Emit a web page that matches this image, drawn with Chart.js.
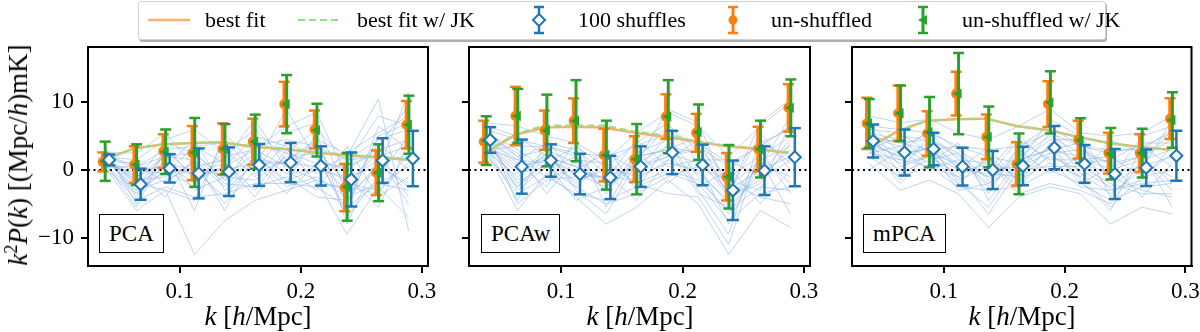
<!DOCTYPE html>
<html>
<head>
<meta charset="utf-8">
<script src="https://cdn.jsdelivr.net/npm/chart.js@4.4.1/dist/chart.umd.min.js"></script>
<style>
  body { margin: 0; background: #fff; }
  #wrap { position: relative; width: 1200px; height: 332px; overflow: hidden; font-family: "Liberation Serif", serif; color: #000; }
  canvas { position: absolute; top: 0; }
  .lbl { position: absolute; top: 214px; height: 37px; line-height: 38px; padding: 0 9px; border: 1px solid #000; background: #fff; font-size: 23px; }
  .xt { position: absolute; top: 301px; font-size: 27px; transform: translateX(-50%); white-space: nowrap; line-height: 30px; }
  .yt { position: absolute; left: 18px; top: 155px; font-size: 27px; white-space: nowrap; line-height: 30px; transform: translate(-50%, -50%) rotate(-90deg); }
  .legbox { position: absolute; left: 138px; top: 1px; width: 966px; height: 37px; border: 1px solid #d0d0d0; border-radius: 3px; background: #fff; box-shadow: 1px 2px 0 #b0b0b0; }
  .lt { position: absolute; top: 1px; line-height: 38px; font-size: 22px; white-space: nowrap; }
  svg { position: absolute; left: 0; top: 0; }
  sup { font-size: 0.68em; line-height: 0; }
</style>
</head>
<body>
<div id="wrap">
  <canvas id="c1" width="440" height="332" style="left:0px"></canvas>
  <canvas id="c2" width="382" height="332" style="left:440px"></canvas>
  <canvas id="c3" width="378" height="332" style="left:822px"></canvas>

  <div class="lbl" style="left:99px">PCA</div>
  <div class="lbl" style="left:481px">PCAw</div>
  <div class="lbl" style="left:863px">mPCA</div>

  <div class="xt" style="left:258px"><i>k</i> [<i>h</i>/Mpc]</div>
  <div class="xt" style="left:640px"><i>k</i> [<i>h</i>/Mpc]</div>
  <div class="xt" style="left:1022px"><i>k</i> [<i>h</i>/Mpc]</div>
  <div class="yt"><i>k</i><sup>2</sup><i>P</i>(<i>k</i>) [(Mpc/<i>h</i>)mK]</div>

  <div class="legbox"></div>
  <svg width="1200" height="40">
    <line x1="148" y1="20" x2="190" y2="20" stroke="#fdae6b" stroke-width="2.5"/>
    <line x1="298" y1="20" x2="340" y2="20" stroke="#8ee08a" stroke-width="2" stroke-dasharray="7,4"/>
    <line x1="539" y1="7" x2="539" y2="33" stroke="#1f77b4" stroke-width="2.5"/>
    <line x1="534" y1="7" x2="544" y2="7" stroke="#1f77b4" stroke-width="2.5"/>
    <line x1="534" y1="33" x2="544" y2="33" stroke="#1f77b4" stroke-width="2.5"/>
    <polygon points="539,14 545,20 539,26 533,20" fill="#fff" stroke="#1f77b4" stroke-width="2"/>
    <line x1="733" y1="7" x2="733" y2="33" stroke="#ff7f0e" stroke-width="3"/>
    <line x1="728" y1="7" x2="738" y2="7" stroke="#ff7f0e" stroke-width="2.5"/>
    <line x1="728" y1="33" x2="738" y2="33" stroke="#ff7f0e" stroke-width="2.5"/>
    <circle cx="733" cy="20" r="4.5" fill="#ff7f0e"/>
    <line x1="923" y1="7" x2="923" y2="33" stroke="#2ca02c" stroke-width="3"/>
    <line x1="918" y1="7" x2="928" y2="7" stroke="#2ca02c" stroke-width="2.5"/>
    <line x1="918" y1="33" x2="928" y2="33" stroke="#2ca02c" stroke-width="2.5"/>
    <polygon points="918,20 927,15 927,25" fill="#2ca02c"/>
  </svg>
  <div class="lt" style="left:205px">best fit</div>
  <div class="lt" style="left:357px">best fit w/ JK</div>
  <div class="lt" style="left:578px">100 shuffles</div>
  <div class="lt" style="left:771px">un-shuffled</div>
  <div class="lt" style="left:962px">un-shuffled w/ JK</div>
</div>

<script>
// k bins (h/Mpc) and axis ticks
const kBins = [0.038, 0.064, 0.088, 0.112, 0.137, 0.162, 0.188, 0.213, 0.238, 0.264, 0.289];
const xTicks = [0.1, 0.2, 0.3];
const yTicks = [-10, 0, 10];

// PCA
const pcaOrange    = [1.2, 0.8, 2.8, 2.5, 3.1, 4.2, 9.75, 6.0, -2.6, -0.4, 6.7];
const pcaOrangeErr = [1.4, 2.7, 2.5, 4.0, 3.8, 3.4, 3.3, 2.8, 3.5, 3.3, 3.5];
const pcaGreen     = [1.3, 0.8, 2.7, 2.6, 3.1, 4.2, 9.75, 5.9, -2.5, -0.4, 6.7];
const pcaGreenErr  = [2.9, 3.0, 3.3, 5.1, 3.7, 4.0, 4.3, 3.9, 5.0, 4.2, 4.3];
const pcaBlue      = [1.5, -2.1, 0.25, -0.5, -0.25, 0.75, 1.1, 0.6, -1.4, 1.4, 1.7];
const pcaBlueErr   = [0.8, 2.3, 2.1, 3.7, 3.6, 3.1, 2.9, 2.9, 4.0, 3.3, 4.1];
const pcaFit       = [1.5, 3.2, 3.8, 4.0, 4.1, 3.4, 3.1, 2.6, 2.2, 1.9, 1.5];
const pcaFitJK     = [1.5, 3.2, 3.8, 4.0, 4.1, 3.5, 3.2, 2.7, 2.3, 2.0, 1.6];
const pcaShuffles = [
  [1.5, -2.0, 0.5, -0.5, 0.0, 1.0, 1.0, 0.5, -1.5, 1.5, 2.0],
  [2.3, 0.5, 3.0, 3.5, 4.0, 3.5, 4.5, 3.5, 1.5, 4.5, 6.0],
  [0.8, -4.5, -2.5, -4.0, -3.5, -2.0, -2.0, -2.5, -5.5, -2.0, -3.0],
  [1.2, -1.0, 2.0, 2.5, -1.5, 4.0, 2.5, 1.0, -3.0, 3.0, 4.5],
  [2.0, 1.5, 4.5, 6.0, 2.5, 6.0, 1.5, 4.5, 2.5, 5.5, 8.0],
  [0.5, -6.0, -3.0, -12.5, -7.5, -4.5, -3.0, -1.5, -9.5, -2.5, -7.0],
  [1.6, -1.5, -1.0, 1.0, -5.0, 0.0, 5.5, 7.0, -3.5, 0.0, 11.5],
  [2.6, 2.5, 5.5, 0.5, 1.5, 7.5, 0.0, -3.0, 3.5, -4.0, -1.0],
  [0.2, -3.5, 0.0, -2.5, 3.0, -1.0, 4.0, 2.0, -6.0, 6.5, 3.0],
  [1.8, -3.0, 1.5, -3.0, -1.0, 2.5, -2.0, 5.5, -8.0, 2.0, -5.0],
  [1.0, 0.0, -0.5, 3.5, 1.0, -3.0, 3.0, -0.5, 1.0, 8.0, 6.5],
  [2.2, -4.0, 1.0, 0.0, -4.0, 1.5, 1.0, 3.0, -2.0, -3.0, 1.0],
  [1.4, -2.5, 2.5, -6.0, 5.5, 0.5, 9.0, 1.5, 0.0, 3.5, 9.5],
  [0.9, -0.5, -4.0, 2.0, -2.0, -2.5, -1.0, -4.0, -4.5, 1.0, -2.5],
  [2.9, -5.0, 3.5, -1.5, 0.5, 3.0, 6.5, 8.5, -1.0, -5.5, 4.0],
  [1.3, 1.0, -2.0, 1.5, -2.5, 2.0, -1.5, 0.0, 2.0, 10.5, -9.0],
  [1.7, -1.0, 1.0, -2.0, 2.0, 3.0, 0.5, -1.5, -3.0, 4.0, 0.0],
  [0.6, -3.0, -1.5, 0.5, -1.0, -1.5, 2.0, 2.5, -7.0, -1.0, 5.0],
  [2.4, 0.0, 0.5, 4.5, -3.0, 1.0, -3.5, 1.0, 0.5, 2.5, -4.0],
  [1.1, -5.5, 3.0, -1.0, 0.5, 5.0, 3.5, -2.0, -2.5, -3.5, 2.5],
  [1.9, -2.0, -3.0, -4.5, 4.5, -0.5, 1.5, 4.0, -5.0, 5.0, 7.0],
  [0.4, 0.5, 2.0, 1.5, -6.0, 2.5, -0.5, 0.0, -1.0, 0.5, -2.0],
  [2.1, -3.5, 0.0, -0.5, 1.0, -4.0, 2.5, 6.0, 1.5, 2.0, 3.5],
  [1.5, -1.5, 4.0, 2.5, -1.5, 1.5, -2.5, -1.0, -4.0, -2.0, 0.5]
];

// PCAw
const pcawOrange    = [4.2, 8.0, 5.9, 7.3, 2.2, 1.6, 7.9, 5.5, -1.0, 3.1, 9.2];
const pcawOrangeErr = [3.1, 4.3, 2.9, 3.3, 3.9, 3.4, 3.3, 2.8, 3.5, 3.3, 3.5];
const pcawGreen     = [4.35, 8.0, 5.85, 7.3, 2.2, 1.6, 7.9, 5.6, -1.0, 3.1, 9.2];
const pcawGreenErr  = [3.6, 4.0, 5.3, 6.0, 5.1, 5.2, 5.4, 4.1, 4.7, 4.2, 4.2];
const pcawBlue      = [4.45, 0.5, 1.4, -0.6, -1.1, 0.5, 2.6, 0.75, -3.0, -0.1, 1.9];
const pcawBlueErr   = [1.9, 4.0, 2.4, 3.0, 3.2, 3.0, 3.2, 3.0, 4.4, 3.6, 4.3];
const pcawFit       = [2.4, 5.2, 6.3, 6.4, 6.3, 5.5, 4.9, 4.2, 3.5, 3.1, 2.5];
const pcawFitJK     = [2.5, 5.3, 6.6, 6.6, 6.6, 5.7, 5.1, 4.3, 3.6, 3.2, 2.6];
const pcawShuffles = [
  [4.5, 0.5, 1.5, -0.5, -1.0, 0.5, 2.5, 1.0, -3.0, 0.0, 2.0],
  [6.0, 4.5, 3.5, 2.5, 2.0, 3.5, 5.5, 4.0, 1.0, 3.5, 6.5],
  [2.5, -3.5, -1.0, -3.5, -4.5, -2.5, -0.5, -2.0, -7.5, -3.5, -2.5],
  [5.0, 2.0, 3.0, 1.0, -3.0, 1.5, 6.5, 3.0, -1.0, 2.0, 5.0],
  [3.0, -6.0, -0.5, -4.0, -8.0, -5.5, -1.5, -5.0, -12.5, -6.0, -8.5],
  [7.0, 6.5, 5.0, 4.0, 1.5, 5.5, 8.5, 6.5, 2.0, 6.5, 10.0],
  [4.0, -1.5, 2.5, -2.0, 0.5, -1.0, 1.0, 0.0, -5.0, 1.0, -1.0],
  [5.5, 3.0, 0.0, 2.0, -2.0, 3.0, -2.0, 2.0, -4.0, -2.0, 4.0],
  [3.5, -4.5, 4.5, -1.0, 3.5, -3.0, 4.0, -3.0, -9.5, 4.5, 1.0],
  [4.8, 1.0, -2.5, 4.5, -5.5, 2.0, 3.0, 5.0, -2.0, -4.0, -5.0],
  [2.0, -2.5, 1.0, -1.5, 0.0, 0.0, 5.0, -1.0, -6.5, 0.5, 8.0],
  [6.5, 5.0, 2.0, 0.5, -1.5, 4.5, 0.5, 1.5, 1.5, -1.0, 3.0],
  [3.8, -0.5, 3.0, -3.0, -6.5, 1.0, 9.0, 7.0, -3.5, 7.0, 10.5],
  [5.2, 2.5, -3.5, 1.5, 1.0, -2.0, -3.5, -4.0, -11.0, 3.0, -3.5],
  [4.2, -2.0, 1.0, -4.5, -2.5, 0.5, 2.0, 3.5, 0.5, -5.0, 0.0],
  [3.2, 1.5, 4.0, 3.0, -0.5, -4.5, 1.5, -0.5, -4.5, 1.5, -6.5],
  [4.0, 0.0, 2.0, 0.5, -2.0, 1.0, 3.5, 2.5, -2.5, 1.5, 3.5],
  [5.5, -3.0, 0.5, -2.5, 1.5, -2.0, 0.0, -1.5, -6.0, -2.5, -3.0],
  [3.0, 3.5, 3.5, 2.0, -3.5, 2.5, 4.5, -2.5, 0.0, 4.0, 6.0],
  [6.2, -5.0, -1.5, -1.0, -1.0, -1.5, 1.5, 4.5, -4.0, -1.5, 1.5],
  [4.6, 1.5, 1.0, 3.5, 0.5, 4.0, 7.0, 1.0, -8.0, 2.0, -2.0],
  [2.8, -1.0, 2.5, -2.5, -5.0, -3.5, -1.0, 0.5, -1.5, -3.0, 7.0],
  [5.8, 2.0, -1.0, 0.0, 2.5, 0.0, 2.0, 3.0, -3.5, 5.5, 0.0],
  [3.6, -2.5, 2.0, -0.5, -2.5, 2.0, 3.0, -3.5, -5.5, -0.5, 4.5]
];

// mPCA
const mpcaOrange    = [6.9, 8.4, 5.4, 11.3, 4.9, 0.9, 9.75, 4.5, 2.5, 2.5, 7.6];
const mpcaOrangeErr = [3.8, 4.1, 3.3, 3.25, 3.3, 3.2, 3.4, 2.8, 3.0, 2.8, 3.0];
const mpcaGreen     = [6.9, 8.4, 5.6, 11.3, 4.9, 0.9, 10.0, 4.35, 2.4, 2.5, 7.4];
const mpcaGreenErr  = [3.6, 4.1, 5.2, 6.0, 4.5, 4.5, 4.6, 3.3, 3.8, 3.6, 4.1];
const mpcaBlue      = [4.3, 2.6, 3.1, 0.5, 0.0, 0.6, 3.3, 0.9, -0.6, 0.35, 2.1];
const mpcaBlueErr   = [2.45, 3.4, 2.4, 2.8, 2.8, 2.85, 3.2, 2.8, 3.7, 2.7, 3.7];
const mpcaFit       = [3.1, 5.8, 7.3, 7.5, 7.6, 6.5, 5.9, 4.9, 4.0, 3.4, 3.0];
const mpcaFitJK     = [3.1, 5.8, 7.3, 7.5, 7.6, 6.5, 5.9, 4.9, 4.0, 3.4, 3.0];
const mpcaShuffles = [
  [4.5, 2.5, 3.0, 0.5, 0.0, 0.5, 3.5, 1.0, -0.5, 0.5, 2.0],
  [6.5, 6.0, 5.5, 3.5, 3.0, 3.5, 6.5, 3.5, 3.0, 3.0, 6.0],
  [2.0, -1.0, 0.5, -2.5, -3.0, -2.5, 0.0, -2.0, -4.5, -2.5, -2.0],
  [5.0, 4.0, 4.5, 2.0, -2.5, 2.0, 5.0, 2.5, 1.0, 2.0, 4.5],
  [1.0, -3.0, -1.5, -3.5, -8.5, -4.0, -2.5, -3.5, -8.0, -5.5, -6.5],
  [8.0, 7.0, 7.5, 5.5, 4.5, 6.5, 9.0, 5.5, 5.0, 5.5, 8.0],
  [3.5, 1.0, 2.0, -1.0, 1.5, -1.0, 2.0, 0.0, -2.5, 1.0, -1.0],
  [5.5, 4.5, 1.5, 2.5, -1.5, 3.0, -0.5, 2.0, -3.0, -1.5, 3.5],
  [3.0, 0.0, 5.0, 0.0, 3.5, -2.0, 4.0, -1.5, -6.0, 3.5, 0.5],
  [4.8, 3.5, 1.0, 4.0, -4.5, 1.5, 3.0, 4.0, -1.0, -3.0, -4.0],
  [2.5, 1.5, 3.5, -1.5, 0.5, 0.0, 5.5, -0.5, -3.5, 0.0, 7.5],
  [6.0, 5.5, 2.5, 1.0, -1.0, 4.5, 1.5, 1.5, 2.0, -1.0, 2.5],
  [3.8, 2.0, 4.0, -2.0, -5.5, 1.0, 7.5, 5.0, -1.5, 5.0, 6.5],
  [0.0, 3.0, 0.0, 1.5, 1.0, -3.5, -2.0, -3.0, -5.0, 1.5, -3.0],
  [4.2, -1.5, 3.0, -3.0, -2.0, 0.5, 2.5, 3.0, 1.0, -4.0, 1.0],
  [7.0, 2.5, 6.0, 3.0, 0.0, 5.0, 1.0, -1.0, 4.5, 2.5, -5.5],
  [4.0, 2.0, 3.5, 1.0, -1.0, 1.5, 3.0, 2.0, 0.0, 1.5, 3.0],
  [5.5, -0.5, 1.5, -2.0, 2.0, -1.5, 1.0, -2.5, -3.0, -2.0, -1.5],
  [3.0, 5.0, 4.5, 2.5, -3.5, 3.5, 5.5, 3.5, 2.5, 3.5, 5.5],
  [6.5, 0.5, 2.0, -0.5, 1.0, -2.5, 2.5, -1.0, -5.5, -1.0, 0.0],
  [2.5, 3.5, 5.5, 1.5, -2.0, 2.5, 6.0, 1.0, 1.5, 4.0, 4.0],
  [4.5, 1.5, 0.5, -1.0, -6.5, 0.0, 0.5, 0.5, -2.0, -3.5, -3.5],
  [5.0, 4.0, 3.0, 3.5, 2.0, 1.0, 4.5, 4.5, -4.0, 1.0, 6.0],
  [3.5, -2.0, 2.5, 0.0, -0.5, -1.0, 3.5, -2.0, 0.5, 2.0, -2.0]
];

const ORANGE = '#ff7f0e', GREEN = '#2ca02c', BLUE = '#1f77b4';
const xMin = 0.024, xMax = 0.305, yMin = -14.2, yMax = 18.2;

Chart.defaults.font.family = '"Liberation Serif", serif';
Chart.defaults.color = '#000';

function pts(ys, dx) {
  return kBins.map((k, i) => ({ x: k + dx, y: ys[i] }));
}

function errorSets(ys, es, dx, color, barW, capR, order) {
  const bars = [], caps = [];
  kBins.forEach((k, i) => {
    bars.push({ x: k + dx, y: ys[i] - es[i] }, { x: k + dx, y: ys[i] + es[i] }, { x: k + dx, y: null });
    caps.push({ x: k + dx, y: ys[i] - es[i] }, { x: k + dx, y: ys[i] + es[i] });
  });
  return [
    { data: bars, showLine: true, spanGaps: false, borderColor: color, borderWidth: barW, pointRadius: 0, borderCapStyle: 'butt', order: order },
    { data: caps, pointStyle: 'line', pointRadius: capR, borderColor: color, backgroundColor: color, pointBorderWidth: 2.5, order: order }
  ];
}

const framePlugin = {
  id: 'frame',
  afterDraw(chart) {
    const { ctx, chartArea: a } = chart;
    ctx.save();
    ctx.strokeStyle = '#000';
    ctx.lineWidth = 2;
    ctx.strokeRect(a.left, a.top, a.right - a.left, a.bottom - a.top);
    ctx.restore();
  }
};

function makePanel(id, yWidth, rightPad, showYLabels, d) {
  const datasets = [];
  d.shuffles.forEach(s => {
    datasets.push({ data: pts(s, 0), showLine: true, borderColor: 'rgba(140,178,228,0.55)', borderWidth: 1, pointRadius: 0, order: 20 });
  });
  datasets.push({ data: [{ x: xMin, y: 0 }, { x: xMax, y: 0 }], showLine: true, borderColor: '#000', borderWidth: 2, borderDash: [2, 3.5], pointRadius: 0, order: 15 });
  datasets.push({ data: pts(d.fit, -0.0018), showLine: true, borderColor: '#fdae6b', borderWidth: 2.5, pointRadius: 0, order: 12 });
  datasets.push({ data: pts(d.fitJK, -0.0018), showLine: true, borderColor: '#8ee08a', borderWidth: 2, borderDash: [7, 4], pointRadius: 0, order: 11 });

  datasets.push(...errorSets(d.orange, d.orangeErr, -0.0018, ORANGE, 3.5, 5.5, 8));
  datasets.push({ data: pts(d.orange, -0.0018), pointStyle: 'circle', pointRadius: 5, backgroundColor: ORANGE, borderColor: ORANGE, borderWidth: 0, order: 7 });
  datasets.push(...errorSets(d.green, d.greenErr, 0.0002, GREEN, 3, 5.5, 6));
  datasets.push({ data: pts(d.green, 0.0002), pointStyle: 'triangle', pointRotation: 270, pointRadius: 6, backgroundColor: GREEN, borderColor: GREEN, borderWidth: 0, order: 5 });
  datasets.push(...errorSets(d.blue, d.blueErr, 0.0035, BLUE, 2.5, 6, 4));
  datasets.push({ data: pts(d.blue, 0.0035), pointStyle: 'rectRot', pointRadius: 6, backgroundColor: '#fff', borderColor: BLUE, borderWidth: 2, order: 3 });

  new Chart(document.getElementById(id), {
    type: 'scatter',
    data: { datasets: datasets },
    options: {
      responsive: false,
      animation: false,
      events: [],
      layout: { padding: { left: 0, right: rightPad, top: 47, bottom: 0 } },
      plugins: { legend: { display: false }, tooltip: { enabled: false } },
      scales: {
        x: {
          type: 'linear', min: xMin, max: xMax,
          afterBuildTicks: s => { s.ticks = xTicks.map(v => ({ value: v })); },
          afterFit: s => { s.height = 66; s.paddingLeft = 0; s.paddingRight = 0; },
          ticks: { font: { size: 23 }, color: '#000', padding: 5, maxRotation: 0, callback: v => v.toFixed(1) },
          grid: { drawOnChartArea: false, drawTicks: true, tickLength: 7, color: '#000', lineWidth: 2 },
          border: { display: true, color: '#000', width: 2 }
        },
        y: {
          type: 'linear', min: yMin, max: yMax,
          afterBuildTicks: s => { s.ticks = yTicks.map(v => ({ value: v })); },
          afterFit: s => { s.width = yWidth; s.paddingTop = 0; s.paddingBottom = 0; },
          ticks: { font: { size: 23 }, color: '#000', padding: 7, callback: v => showYLabels ? (v < 0 ? '\u2212' + Math.abs(v) : String(v)) : '' },
          grid: { drawOnChartArea: false, drawTicks: true, tickLength: 7, color: '#000', lineWidth: 2 },
          border: { display: true, color: '#000', width: 2 }
        }
      }
    },
    plugins: [framePlugin]
  });
}

makePanel('c1', 88, 12, true, {
  shuffles: pcaShuffles, fit: pcaFit, fitJK: pcaFitJK,
  orange: pcaOrange, orangeErr: pcaOrangeErr, green: pcaGreen, greenErr: pcaGreenErr, blue: pcaBlue, blueErr: pcaBlueErr
});
makePanel('c2', 29, 12, false, {
  shuffles: pcawShuffles, fit: pcawFit, fitJK: pcawFitJK,
  orange: pcawOrange, orangeErr: pcawOrangeErr, green: pcawGreen, greenErr: pcawGreenErr, blue: pcawBlue, blueErr: pcawBlueErr
});
makePanel('c3', 30, 8, false, {
  shuffles: mpcaShuffles, fit: mpcaFit, fitJK: mpcaFitJK,
  orange: mpcaOrange, orangeErr: mpcaOrangeErr, green: mpcaGreen, greenErr: mpcaGreenErr, blue: mpcaBlue, blueErr: mpcaBlueErr
});
</script>
</body>
</html>
